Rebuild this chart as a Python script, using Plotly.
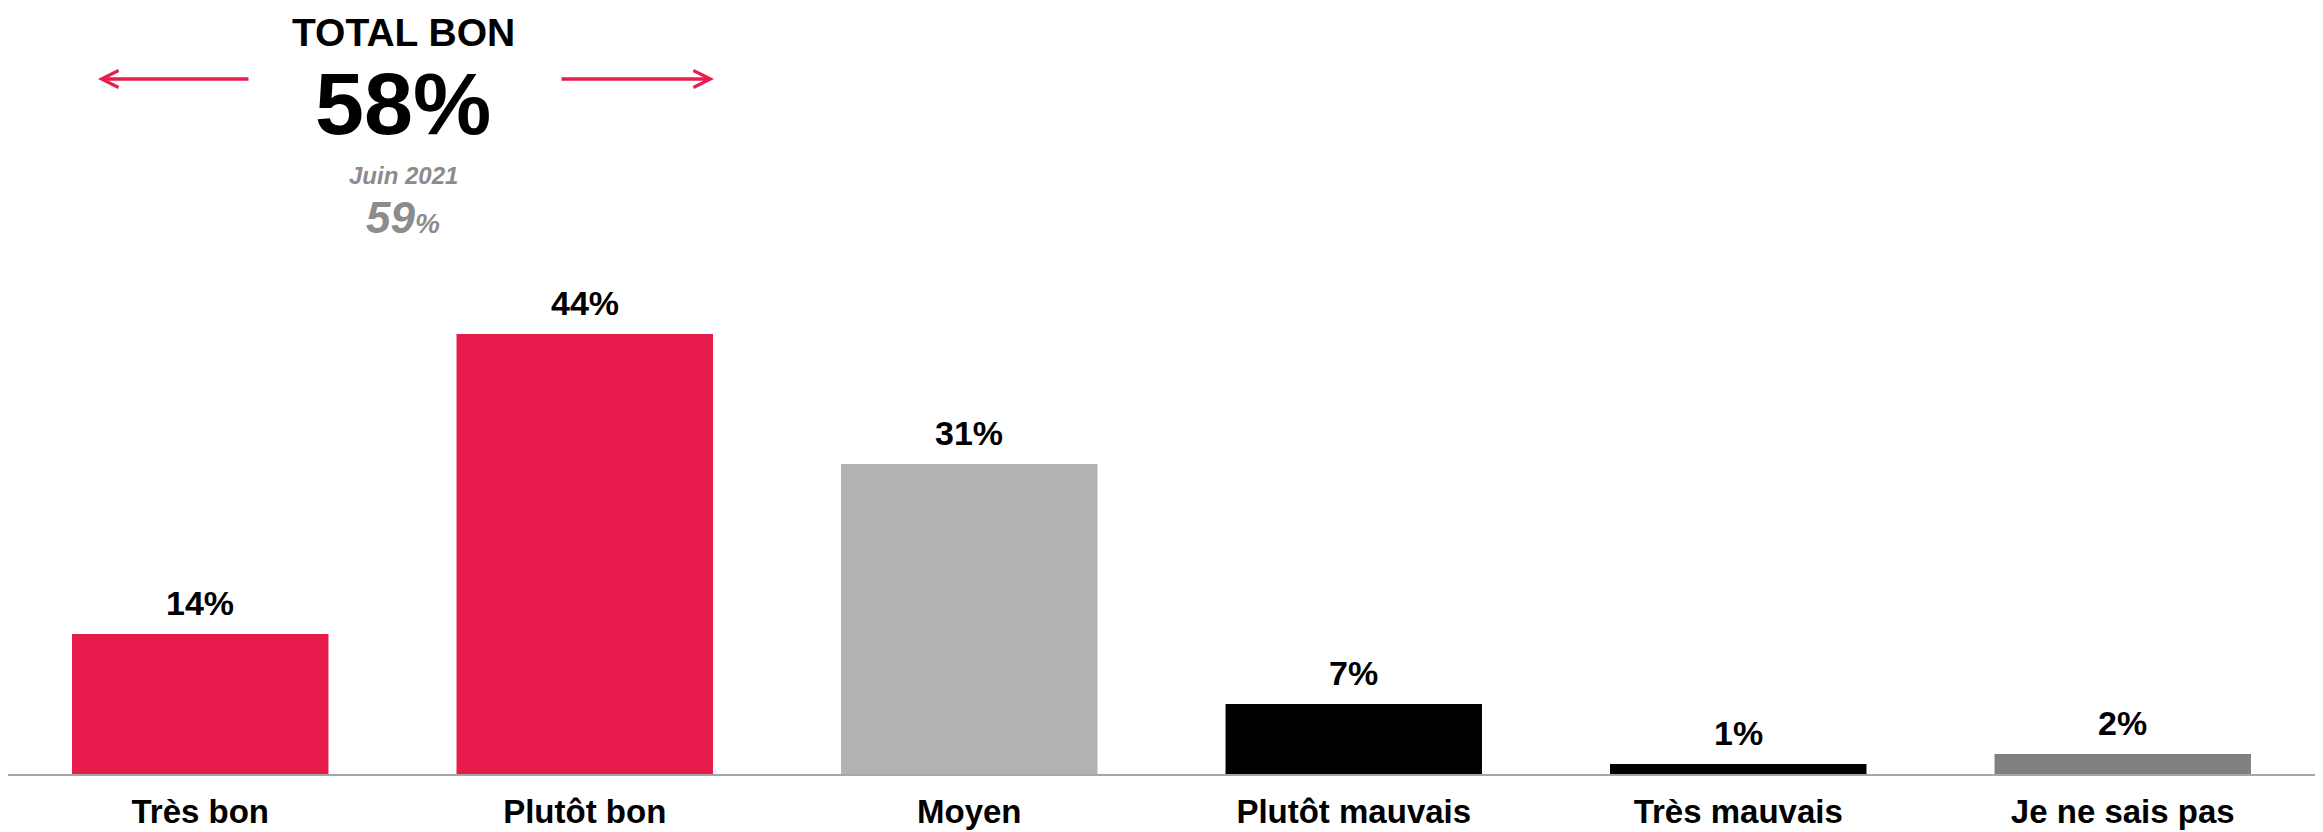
import plotly.graph_objects as go

# données
categories = ['Très bon', 'Plutôt bon', 'Moyen', 'Plutôt mauvais', 'Très mauvais', 'Je ne sais pas']
values = [14, 44, 31, 7, 1, 2]
bar_colors = ['#E81C4C', '#E81C4C', '#B2B2B2', '#000000', '#000000', '#808080']
total_label = 'TOTAL BON'
total_value = '58%'
previous_label = 'Juin 2021'
previous_value = '59'

FONT = 'Liberation Sans Narrow, Arial Narrow, Liberation Sans, Arial, sans-serif'
W, H = 2323, 832
OFF = 8  # marge par défaut du <body>
ML, MR, MT, MB = 0, 16, 0, 66
PW = W - ML - MR
PH = H - MT - MB


def px(x):
    # position en pixels de la page -> coordonnée "paper"
    return (x - OFF - ML) / PW


def py(y):
    return 1 - (y - OFF - MT) / PH


fig = go.Figure()
fig.add_trace(go.Bar(
    x=categories, y=values, marker=dict(color=bar_colors, line=dict(width=0)),
    width=0.667, hoverinfo='skip',
))

annotations = []
# étiquettes des barres
for c, v in zip(categories, values):
    annotations.append(dict(
        x=c, y=v, xref='x', yref='y', text=f'{v}%', showarrow=False,
        yanchor='bottom', yshift=10,
        font=dict(family=FONT, size=34, color='#000000', weight='bold'),
    ))

# bloc "total bon"
cx = px(403)
annotations += [
    dict(x=cx, y=py(32), xref='paper', yref='paper', text=total_label, showarrow=False,
         xanchor='center', yanchor='middle',
         font=dict(family=FONT, size=39, color='#000000', weight='bold')),
    dict(x=cx, y=py(104), xref='paper', yref='paper', text=total_value, showarrow=False,
         xanchor='center', yanchor='middle',
         font=dict(family=FONT, size=88, color='#000000', weight='bold')),
    dict(x=cx, y=py(175), xref='paper', yref='paper', text=previous_label, showarrow=False,
         xanchor='center', yanchor='middle',
         font=dict(family=FONT, size=24, color='#8C8C8C', weight='bold', style='italic')),
    dict(x=cx, y=py(218), xref='paper', yref='paper',
         text=previous_value + '<span style="font-size:28px">%</span>', showarrow=False,
         xanchor='center', yanchor='middle',
         font=dict(family=FONT, size=44, color='#8C8C8C', weight='bold', style='italic')),
    # flèches
    dict(x=px(98), y=py(79), xref='paper', yref='paper', text='', showarrow=True,
         ax=152, ay=0, arrowhead=5, arrowsize=0.95, arrowwidth=3.5, arrowcolor='#E81C4C', standoff=0),
    dict(x=px(714), y=py(79), xref='paper', yref='paper', text='', showarrow=True,
         ax=-154, ay=0, arrowhead=5, arrowsize=0.95, arrowwidth=3.5, arrowcolor='#E81C4C', standoff=0),
]

fig.update_layout(
    width=W, height=H,
    margin=dict(l=ML, r=MR, t=MT, b=MB, pad=0),
    plot_bgcolor='white', paper_bgcolor='white',
    showlegend=False, bargap=0.333,
    annotations=annotations,
)
fig.update_xaxes(
    showgrid=False, showline=True, linecolor='#A6A6A6', linewidth=2,
    ticks='', tickfont=dict(family=FONT, size=33, color='#000000', weight='bold'),
    ticklabelstandoff=7, range=[-0.5, 5.5],
)
fig.update_yaxes(visible=False, range=[0, PH / 10], showgrid=False, zeroline=False)

fig.write_html('out.html')
